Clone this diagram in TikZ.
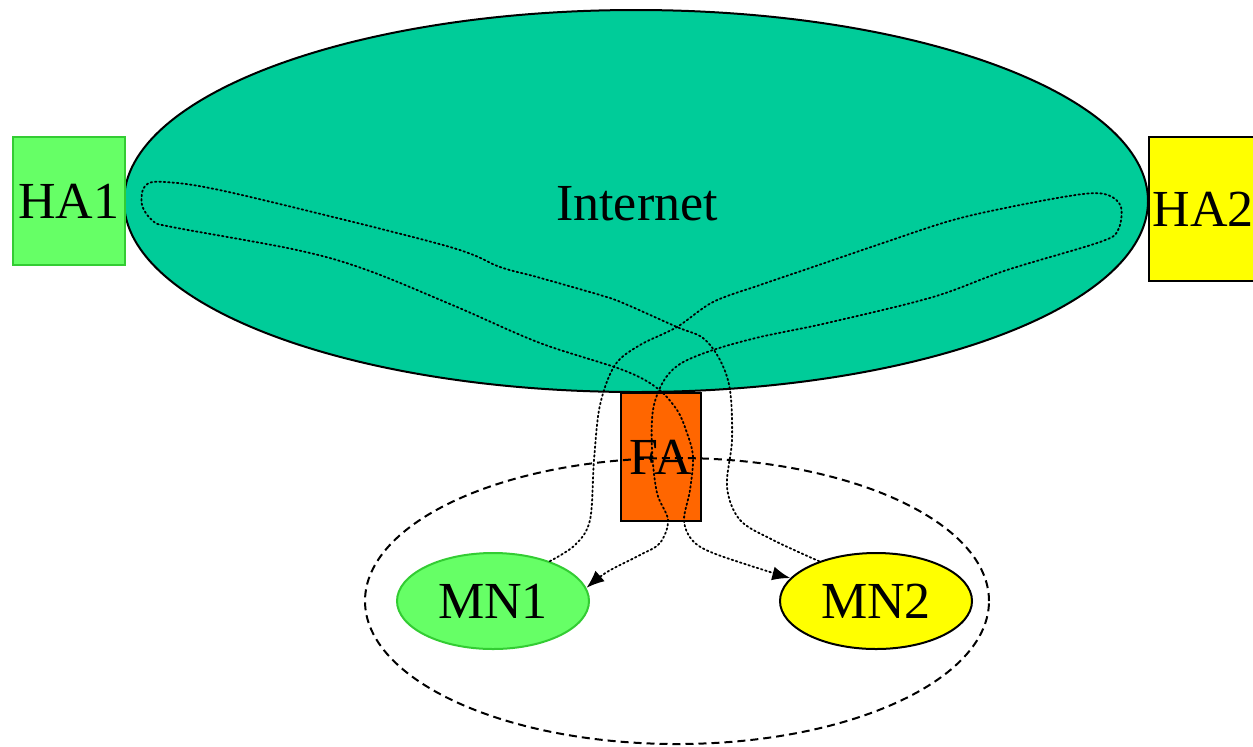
\documentclass[tikz,border=0pt]{standalone}
\usepackage{fontspec}
\setmainfont{Liberation Serif}
\usetikzlibrary{arrows.meta,shapes.geometric}
\definecolor{netgreen}{RGB}{0,204,153}
\definecolor{lightgreen}{RGB}{102,255,102}
\definecolor{darkgreen}{RGB}{51,204,51}
\definecolor{faorange}{RGB}{255,102,0}
\definecolor{hayellow}{RGB}{255,255,0}
\begin{document}
\begin{tikzpicture}[x=0.5pt,y=-0.5pt,
  every node/.style={font=\fontsize{26}{30}\selectfont,inner sep=0pt},
  agent/.style={draw,line width=1pt,minimum width=#1},
  host/.style={ellipse,draw,line width=1pt,minimum width=96pt,minimum height=48pt},
  route/.style={line width=0.9pt,dash pattern=on 0.8pt off 1.4pt,line cap=round},
  tip/.style={-{Latex[length=9pt,width=7pt]}}]
\useasboundingbox (0,0) rectangle (1253,746);
\node [ellipse,draw,line width=1pt,fill=netgreen,minimum width=512pt,minimum height=191pt] (inet) at (636,201) {};
\node (inettext) at (637,204) {Internet};
\node [agent=56pt,draw=darkgreen,fill=lightgreen,minimum height=64pt] (ha1) at (69,201) {HA1};
\node [agent=54pt,fill=hayellow,minimum height=72pt] (ha2) at (1203,209) {HA2};
\node [agent=40pt,fill=faorange,minimum height=64pt] (fa) at (661,457) {FA};
\node [ellipse,draw,line width=1pt,dash pattern=on 4pt off 2.5pt,minimum width=312pt,minimum height=143pt] (net) at (677,601) {};
\node [host,draw=darkgreen,fill=lightgreen] (mn1) at (493,601) {MN1};
\node [host,fill=hayellow] (mn2) at (876,601) {MN2};
% MN1 -> HA2 -> MN1
\draw [route,tip] plot [smooth,tension=0.55] coordinates {(mn1.35) (575,545) (590,520) (594,460) (600,405) (615,365) (640,345) (677,327) (713,302) (760,285) (810,268) (883,243) (953,220) (1020,205) (1083,194) (1108,195) (1121,207) (1118,230) (1100,242) (1007,270) (933,297) (827,323) (760,337) (713,350) (680,364) (663,382) (653,410) (652,450) (657,493) (668,520) (660,543) (640,555) (607,572) (mn1.8)};
% MN2 -> HA1 -> MN2
\draw [route,tip] plot [smooth,tension=0.55] coordinates {(mn2.145) (773,540) (740,520) (727,487) (732,440) (730,390) (720,360) (703,338) (677,327) (623,303) (600,295) (537,277) (500,267) (443,245) (233,193) (165,182) (145,186) (142,205) (153,221) (172,227) (297,250) (367,270) (457,307) (540,343) (623,370) (657,388) (677,410) (687,433) (693,457) (690,490) (684,520) (692,540) (713,553) (770,572) (mn2.165)};
\end{tikzpicture}
\end{document}
